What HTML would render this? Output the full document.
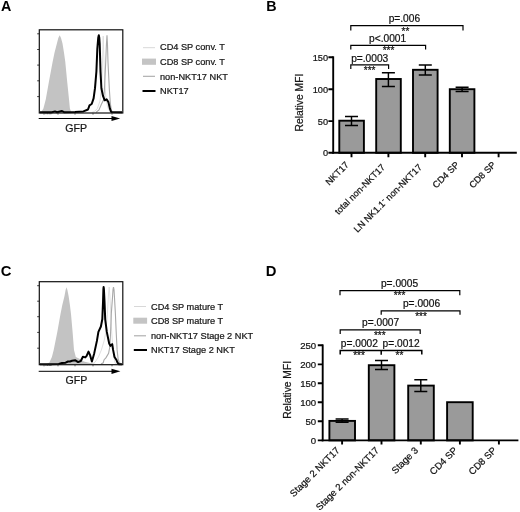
<!DOCTYPE html>
<html>
<head>
<meta charset="utf-8">
<title>Figure</title>
<style>
html,body{margin:0;padding:0;background:#fff;}
body{width:520px;height:512px;overflow:hidden;font-family:"Liberation Sans",sans-serif;}
svg{display:block;font-family:"Liberation Sans",sans-serif;filter:blur(0.3px);}
text{stroke:#111;stroke-width:0.22px;}
.pl{stroke:none;}
.pl{font-weight:bold;font-size:14.3px;fill:#000;}
.lg{font-size:9.2px;fill:#1a1a1a;}
.ax{font-size:10.6px;fill:#1a1a1a;}
.tk{font-size:9.2px;fill:#111;}
.td{font-size:9.6px;fill:#111;}
.pv{font-size:10.2px;fill:#111;}
.st{font-size:10px;fill:#111;}
.xl{font-size:9.2px;fill:#111;}
.xd{font-size:9.6px;fill:#111;}
.bar{fill:#9a9a9a;stroke:#000;stroke-width:1.9;}
.ln{stroke:#000;stroke-width:1.9;fill:none;}
.eb{stroke:#000;stroke-width:1.45;fill:none;}
.br{stroke:#000;stroke-width:1.2;fill:none;}
</style>
</head>
<body>
<svg width="520" height="512" viewBox="0 0 520 512">
<rect x="0" y="0" width="520" height="512" fill="#fff"/>

<!-- ================= PANEL A ================= -->
<g id="panelA">
<text class="pl" x="0.9" y="10.7">A</text>
<!-- gray filled peak -->
<path d="M40,112.6 L41.1,112.2 L43.4,108.5 L45.8,99.2 L49.1,80.7 L52.6,62.1 L54.5,52.8 L56.9,43.6 L58.3,38 L59.7,35.2 L61,38 L62.5,43.6 L64,52.8 L65.3,62.1 L67.1,80.7 L69,99.2 L69.9,108.5 L71.2,112.2 L73,112.6 Z" fill="#c3c3c3"/>
<!-- light thin line -->
<path d="M92,112.4 L94.5,111.4 L97.3,108.6 L100,101 L102,80.7 L102.7,55 L103.2,36.1 L103.8,55 L104.7,80.7 L106,100 L108,108 L110,112" fill="none" stroke="#dcdcdc" stroke-width="0.9"/>
<!-- gray line -->
<path d="M96,112.4 L99,110 L101.5,104 L103.5,100 L104.4,90 L105.7,62.2 L106.4,45 L107,35.2 L107.5,45 L108,62.2 L109.4,90 L110.3,103 L111.3,110 L112.5,112.4" fill="none" stroke="#a8a8a8" stroke-width="1.1"/>
<!-- black NKT17 line -->
<path d="M40,112.3 L52,112.3 L55,111.4 L57,112.2 L62,111 L64,112.2 L75,112 L83.4,111.4 L88,109.5 L89.5,105.3 L91.7,104 L93.6,98.4 L95,88.2 L96.4,71.5 L97.3,49.2 L98.2,38 L98.8,35.2 L99.3,38 L99.7,43.6 L100.5,71.5 L101.4,88.2 L102.9,95.6 L104.7,100.3 L106.6,99.3 L108.4,102.1 L109.9,108.6 L111.2,112 L122,112.3" fill="none" stroke="#000" stroke-width="2" stroke-linejoin="round"/>
<!-- box -->
<rect x="39.3" y="29.8" width="83.5" height="83.2" fill="none" stroke="#111" stroke-width="1.2"/>
<!-- y ticks -->
<path d="M37.2,33.8H39.3M37.2,49.5H39.3M37.2,65.1H39.3M37.2,80.8H39.3M37.2,96.6H39.3" stroke="#222" stroke-width="0.9"/>
<!-- x ticks -->
<path d="M44,113v1.6M46,113v1.2M47.5,113v1.2M49,113v1.2M50,113v1.2M51,113v1.2M58,113v1.6M75,113v1.6M93,113v1.6M112,113v1.6" stroke="#333" stroke-width="0.8"/>
<!-- arrow -->
<path d="M38.7,118.5H113" stroke="#000" stroke-width="1"/>
<path d="M111.5,115.9L120.2,118.5L111.5,121.1Z" fill="#000"/>
<text class="ax" x="76.2" y="131.6" text-anchor="middle">GFP</text>
<!-- legend -->
<path d="M143,47.7H155" stroke="#d8d8d8" stroke-width="1"/>
<rect x="142" y="58.6" width="14" height="6.2" fill="#c4c4c4"/>
<path d="M143,76.3H155" stroke="#a8a8a8" stroke-width="1.1"/>
<path d="M142.5,91H155.5" stroke="#000" stroke-width="2"/>
<text class="lg" x="160" y="50.3">CD4 SP conv. T</text>
<text class="lg" x="160" y="65.2">CD8 SP conv. T</text>
<text class="lg" x="160" y="79.6">non-NKT17 NKT</text>
<text class="lg" x="160" y="94.2">NKT17</text>
</g>

<!-- ================= PANEL C ================= -->
<g id="panelC">
<text class="pl" style="font-size:14.8px" x="0.7" y="275.7">C</text>
<!-- gray filled peak -->
<path d="M40,364.2 L47,363.8 L49.4,362.4 L51.9,357 L53.7,349.9 L57.3,331.9 L60.5,313.9 L62.3,305 L64.5,296 L65.6,290 L66.5,287.3 L67.4,290 L68.6,296 L69.9,305 L71,313.9 L72.6,331.9 L74,349.9 L75.8,357 L79.4,358.8 L83.9,361.5 L90,363 L96,364 L100,364.2 Z" fill="#c3c3c3"/>
<!-- light thin line -->
<path d="M92,364 L95.1,362.1 L98.4,357 L101.4,349.9 L104.1,340.9 L105.9,331.9 L107.4,313.9 L108.4,296 L109.2,287 L109.9,296 L110.8,313.9 L111.7,331.9 L112.8,346.3 L114,357 L114.9,362.4 L116,364" fill="none" stroke="#dcdcdc" stroke-width="0.9"/>
<!-- gray line -->
<path d="M101,364 L103.2,362.8 L104.1,359.7 L105.9,357.9 L108.6,353.4 L109.9,346.3 L110.6,331.9 L111.3,313.9 L112.6,296 L113,289.5 L113.5,287 L114,289.5 L114.4,296 L115.4,313.9 L116.2,331.9 L117.1,349.9 L118.1,358.8 L119.4,362.8 L121,364" fill="none" stroke="#a8a8a8" stroke-width="1.1"/>
<!-- black line -->
<path d="M40,364.2 L50,364.2 L58.8,364 L62,363 L65.6,362.7 L68,361.5 L70,361.5 L72,360.8 L75.4,360.3 L78.1,362.1 L80.8,361 L82.9,356.7 L85.3,357.4 L86.5,356.1 L88.5,351.6 L90.1,355.2 L91.9,361.5 L94.2,353.4 L96.9,340.9 L98.4,331.9 L100.9,326.5 L102.3,319.3 L103.05,301.4 L103.4,289 L103.6,287 L103.9,289 L104.5,301.4 L105.2,319.3 L106.8,331.9 L109.2,343.6 L110.4,345.9 L112.2,344.1 L113.1,349.9 L114.5,357 L116.3,359.7 L117.6,362.8 L119,364.2 L122,364.2" fill="none" stroke="#000" stroke-width="2" stroke-linejoin="round"/>
<!-- box -->
<rect x="39.3" y="281.7" width="83.5" height="83" fill="none" stroke="#111" stroke-width="1.2"/>
<path d="M37.2,285.7H39.3M37.2,301.2H39.3M37.2,316.7H39.3M37.2,332.4H39.3M37.2,348.2H39.3" stroke="#222" stroke-width="0.9"/>
<path d="M44,364.7v1.6M46,364.7v1.2M47.5,364.7v1.2M49,364.7v1.2M50,364.7v1.2M51,364.7v1.2M58,364.7v1.6M75,364.7v1.6M93,364.7v1.6M112,364.7v1.6" stroke="#333" stroke-width="0.8"/>
<!-- arrow -->
<path d="M38.7,371.3H113" stroke="#000" stroke-width="1"/>
<path d="M111.5,368.7L120.4,371.3L111.5,373.9Z" fill="#000"/>
<text class="ax" x="76.4" y="383.6" text-anchor="middle">GFP</text>
<!-- legend -->
<path d="M134,306.5H146" stroke="#d8d8d8" stroke-width="1"/>
<rect x="133.3" y="317.7" width="13.8" height="6" fill="#c4c4c4"/>
<path d="M134,335.8H146" stroke="#a8a8a8" stroke-width="1.1"/>
<path d="M133.8,350H147" stroke="#000" stroke-width="2"/>
<text class="lg" x="151" y="309.9">CD4 SP mature T</text>
<text class="lg" x="151" y="324.3">CD8 SP mature T</text>
<text class="lg" x="151" y="339.1">non-NKT17 Stage 2 NKT</text>
<text class="lg" x="151" y="353.4">NKT17 Stage 2 NKT</text>
</g>

<!-- ================= PANEL B ================= -->
<g id="panelB">
<text class="pl" x="266.2" y="10.7">B</text>
<!-- bars -->
<rect class="bar" x="339.3" y="120.7" width="24.6" height="32.1"/>
<rect class="bar" x="376.2" y="79" width="24.6" height="73.8"/>
<rect class="bar" x="413" y="69.8" width="24.6" height="83"/>
<rect class="bar" x="449.8" y="89.2" width="24.6" height="63.6"/>
<!-- error bars -->
<path class="eb" d="M351.5,116.5V125.4M345,116.5H358M345,125.4H358"/>
<path class="eb" d="M388.4,72.7V86.5M381.9,72.7H394.9M381.9,86.5H394.9"/>
<path class="eb" d="M425.3,64.9V75M418.8,64.9H431.8M418.8,75H431.8"/>
<path class="eb" d="M462.1,87.2V91.4M455.6,87.2H468.6M455.6,91.4H468.6"/>
<!-- axes -->
<path class="ln" d="M333.2,56.3V153.7"/>
<path class="ln" d="M332.3,152.8H516.8"/>
<path class="ln" d="M328.4,57.2H333.2M328.4,89.2H333.2M328.4,121.1H333.2M328.4,152.8H333.2"/>
<path class="ln" d="M351.5,152.8V157.3M388.4,152.8V157.3M425.2,152.8V157.3M462,152.8V157.3M498.6,152.8V157.3"/>
<!-- tick labels -->
<text class="tk" x="328" y="60.8" text-anchor="end">150</text>
<text class="tk" x="328" y="92.8" text-anchor="end">100</text>
<text class="tk" x="328" y="124.7" text-anchor="end">50</text>
<text class="tk" x="328" y="156.4" text-anchor="end">0</text>
<text class="ax" style="font-size:10.3px" transform="translate(302.9,102.6) rotate(-90)" text-anchor="middle">Relative MFI</text>
<!-- brackets -->
<text class="pv" x="404.4" y="21.7" text-anchor="middle">p=.006</text>
<path class="br" d="M350.8,30.6V25.7H463V30.6"/>
<text class="st" x="405.4" y="34.5" text-anchor="middle">**</text>
<text class="pv" x="387.6" y="41.9" text-anchor="middle">p&lt;.0001</text>
<path class="br" d="M350.8,49.6V45.4H425.6V49.6"/>
<text class="st" x="388.5" y="53.8" text-anchor="middle">***</text>
<text class="pv" x="369.7" y="62.3" text-anchor="middle">p=.0003</text>
<path class="br" d="M350.8,69V64.8H388.6V69"/>
<text class="st" x="369.6" y="74.3" text-anchor="middle">***</text>
<!-- x labels -->
<text class="xl" transform="translate(349.4,165.4) rotate(-45)" text-anchor="end">NKT17</text>
<text class="xl" transform="translate(385.7,167.9) rotate(-45)" text-anchor="end">total non-NKT17</text>
<text class="xl" transform="translate(422.5,167.9) rotate(-45)" text-anchor="end">LN NK1.1<tspan font-size="7.5" dy="-3">-</tspan><tspan dy="3"> non-NKT17</tspan></text>
<text class="xl" transform="translate(459.8,165.3) rotate(-45)" text-anchor="end">CD4 SP</text>
<text class="xl" transform="translate(496.4,165.3) rotate(-45)" text-anchor="end">CD8 SP</text>
</g>
<!-- ================= PANEL D ================= -->
<g id="panelD">
<text class="pl" style="font-size:14.8px" x="265.8" y="275.7">D</text>
<!-- bars -->
<rect class="bar" x="329.4" y="420.9" width="25.6" height="19.5"/>
<rect class="bar" x="368.8" y="365.2" width="25.6" height="75.2"/>
<rect class="bar" x="408.2" y="385.6" width="25.6" height="54.8"/>
<rect class="bar" x="447.1" y="402.2" width="25.6" height="38.2"/>
<!-- error bars -->
<path class="eb" d="M342.1,419V422.2M335.6,419H348.6M335.6,422.2H348.6"/>
<path class="eb" d="M381.5,360.5V369.4M375,360.5H388M375,369.4H388"/>
<path class="eb" d="M420.8,379.7V391.4M414.3,379.7H427.3M414.3,391.4H427.3"/>
<!-- axes -->
<path class="ln" d="M322.7,344.4V441.3"/>
<path class="ln" d="M321.7,440.4H518.4"/>
<path class="ln" d="M317.8,345.2H322.8M317.8,364.4H322.8M317.8,383.3H322.8M317.8,402.2H322.8M317.8,421.2H322.8M317.8,440.4H322.8"/>
<path class="ln" d="M342.1,440.4V444.6M381.5,440.4V444.6M420.8,440.4V444.6M459.9,440.4V444.6M498.9,440.4V444.6"/>
<!-- tick labels -->
<text class="td" x="316.2" y="348.8" text-anchor="end">250</text>
<text class="td" x="316.2" y="368" text-anchor="end">200</text>
<text class="td" x="316.2" y="386.9" text-anchor="end">150</text>
<text class="td" x="316.2" y="405.8" text-anchor="end">100</text>
<text class="td" x="316.2" y="424.8" text-anchor="end">50</text>
<text class="td" x="316.2" y="444" text-anchor="end">0</text>
<text class="ax" style="font-size:10.3px" transform="translate(291.3,389.8) rotate(-90)" text-anchor="middle">Relative MFI</text>
<!-- brackets -->
<text class="pv" x="399.5" y="287.1" text-anchor="middle">p=.0005</text>
<path class="br" d="M340,295.2V290.6H459.8V295.2"/>
<text class="st" x="399.5" y="299.1" text-anchor="middle">***</text>
<text class="pv" x="421.5" y="307.3" text-anchor="middle">p=.0006</text>
<path class="br" d="M381.2,314.8V310.8H460V314.8"/>
<text class="st" x="421" y="319.5" text-anchor="middle">***</text>
<text class="pv" x="380.6" y="326.4" text-anchor="middle">p=.0007</text>
<path class="br" d="M340.2,334V329.9H420.2V334"/>
<text class="st" x="379.8" y="338.8" text-anchor="middle">***</text>
<text class="pv" x="340.8" y="347.1">p=.0002</text>
<text class="pv" x="382.6" y="347.1">p=.0012</text>
<path class="br" d="M340.2,354.4V350.5H421.8V354.4M381.2,350.5V354.8" style="stroke-width:1.5"/>
<text class="st" x="359" y="358.8" text-anchor="middle">***</text>
<text class="st" x="399.5" y="358.8" text-anchor="middle">**</text>
<!-- x labels -->
<text class="xd" transform="translate(340.2,451) rotate(-45)" text-anchor="end">Stage 2 NKT17</text>
<text class="xd" transform="translate(379.6,451) rotate(-45)" text-anchor="end">Stage 2 non-NKT17</text>
<text class="xd" transform="translate(418.8,451) rotate(-45)" text-anchor="end">Stage 3</text>
<text class="xd" transform="translate(458,451) rotate(-45)" text-anchor="end">CD4 SP</text>
<text class="xd" transform="translate(497,451) rotate(-45)" text-anchor="end">CD8 SP</text>
</g>
</svg>
</body>
</html>
